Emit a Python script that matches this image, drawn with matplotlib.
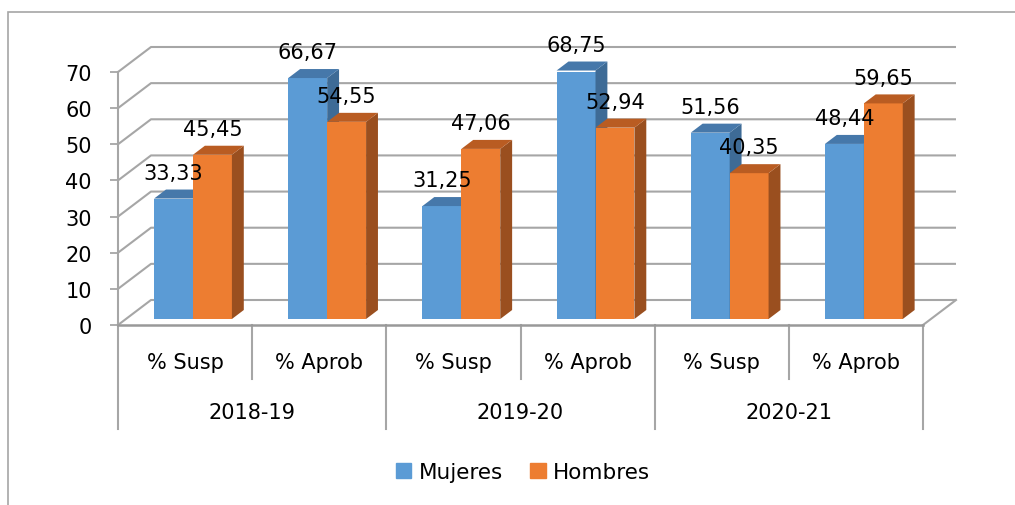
import matplotlib
matplotlib.use("Agg")
import matplotlib.pyplot as plt
from matplotlib.patches import Polygon, Rectangle, Patch

plt.rcParams['font.family'] = ['DejaVu Sans']

# ---- data ----
subcategories = ['% Susp', '% Aprob', '% Susp', '% Aprob', '% Susp', '% Aprob']
groups = ['2018-19', '2019-20', '2020-21']
mujeres = [33.33, 66.67, 31.25, 68.75, 51.56, 48.44]
hombres = [45.45, 54.55, 47.06, 52.94, 40.35, 59.65]
yticks = [0, 10, 20, 30, 40, 50, 60, 70]
series_names = ['Mujeres', 'Hombres']

# ---- style ----
BLUE = '#5B9BD5'; BLUE_TOP = '#4678AA'; BLUE_SIDE = '#3E6B96'
ORANGE = '#ED7D31'; ORANGE_TOP = '#B95C22'; ORANGE_SIDE = '#9A4F1F'
GRID = '#A6A6A6'
FS = 15

W, H = 1015, 506
fig = plt.figure(figsize=(W / 100, H / 100), dpi=100)
ax = fig.add_axes([118 / W, (H - 326) / H, 805 / W, 253 / H])
ncat = len(subcategories)
ax.set_xlim(0, ncat)
ax.set_ylim(0, 70)

# depth projection (data units)
DX = 33 / (805 / ncat)
DY = 25 / (253 / 70)

def proj(x, y, d):
    return (x + d * DX, y + d * DY)

# back wall gridlines + left wall diagonals
for v in yticks:
    p0 = proj(0, v, 0); p1 = proj(0, v, 1); p2 = proj(ncat, v, 1)
    ax.plot([p0[0], p1[0], p2[0]], [p0[1], p1[1], p2[1]], color=GRID, lw=1.5,
            clip_on=False, zorder=1, solid_capstyle='butt')
# floor right edge
q0 = proj(ncat, 0, 0); q1 = proj(ncat, 0, 1)
ax.plot([q0[0], q1[0]], [q0[1], q1[1]], color=GRID, lw=1.5, clip_on=False, zorder=1)

# bars
w = 0.29
d0, d1 = 0.24, 0.60

def draw_bar(x0, v, front, top, side):
    fx, fy = proj(x0, 0, d0)
    ax.bar(fx, v, width=w, bottom=fy, align='edge', color=front, lw=0, zorder=3)
    x1 = x0 + w
    topface = [proj(x0, v, d0), proj(x1, v, d0), proj(x1, v, d1), proj(x0, v, d1)]
    sideface = [proj(x1, 0, d0), proj(x1, v, d0), proj(x1, v, d1), proj(x1, 0, d1)]
    ax.add_patch(Polygon(sideface, closed=True, fc=side, lw=0, zorder=3, clip_on=False))
    ax.add_patch(Polygon(topface, closed=True, fc=top, lw=0, zorder=3, clip_on=False))
    cx, cy = proj(x0 + w / 2, v, d0)
    ax.annotate(f"{v:.2f}".replace('.', ','), (cx, cy), xytext=(0, 18.5),
                textcoords='offset points', ha='center', va='center',
                fontsize=FS, zorder=5, annotation_clip=False)

for i in range(ncat):
    c = i + 0.5
    draw_bar(c - w, mujeres[i], BLUE, BLUE_TOP, BLUE_SIDE)
    draw_bar(c, hombres[i], ORANGE, ORANGE_TOP, ORANGE_SIDE)

# axes styling
for s in ['top', 'right']:
    ax.spines[s].set_visible(False)
ax.spines['left'].set_color(GRID); ax.spines['left'].set_linewidth(1.5)
ax.spines['bottom'].set_color('#999999'); ax.spines['bottom'].set_linewidth(1.8)
ax.set_yticks(yticks)
ax.set_yticklabels([str(t) for t in yticks])
ax.tick_params(axis='y', length=5.8, width=1.3, color=GRID, labelsize=FS, pad=13)
ax.set_xticks([])
ax.patch.set_visible(False)

# category separators and labels
px = 253 / 70
short_y = -(380 - 326) / px
long_y = -(430 - 326) / px
for k in range(ncat + 1):
    yb = long_y if k % 2 == 0 else short_y
    ax.plot([k, k], [0, yb], color=GRID, lw=1.5, clip_on=False)
for i, lab in enumerate(subcategories):
    ax.text(i + 0.5, -(363 - 326) / px, lab, ha='center', va='center', fontsize=FS)
for g, lab in enumerate(groups):
    ax.text(2 * g + 1, -(413 - 326) / px, lab, ha='center', va='center', fontsize=FS)

# outer frame (clipped at right and bottom)
fig.add_artist(Rectangle((8 / W, -0.5), 2, (1 - 13 / H) + 0.5, transform=fig.transFigure,
                         fill=False, ec='#A6A6A6', lw=1.2))

handles = [Patch(color=BLUE, label=series_names[0]), Patch(color=ORANGE, label=series_names[1])]
fig.legend(handles=handles, loc='center', bbox_to_anchor=(523 / W, 1 - 473 / H), ncol=2,
           frameon=False, fontsize=15.5, handlelength=0.72, handleheight=0.72,
           handletextpad=0.35, columnspacing=1.25)

fig.savefig('out.png', dpi=100)
